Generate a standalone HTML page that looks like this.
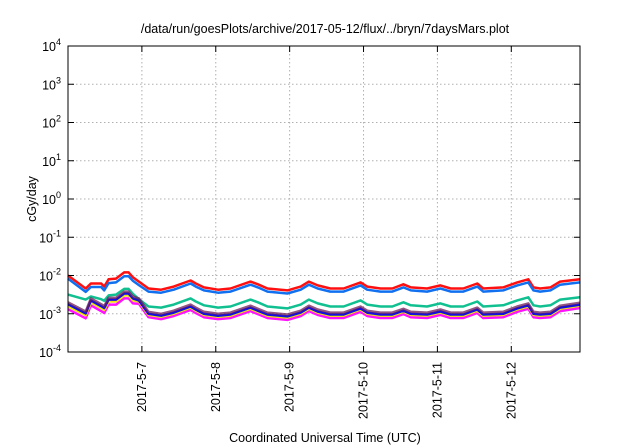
<!DOCTYPE html>
<html><head><meta charset="utf-8"><style>
body{margin:0;background:#fff}
svg{display:block;font-family:"Liberation Sans",sans-serif}
</style></head><body>
<svg id="c" width="640" height="448">
<text x="325" y="33" text-anchor="middle" font-size="12.5">/data/run/goesPlots/archive/2017-05-12/flux/../bryn/7daysMars.plot</text>
<text x="325" y="442" text-anchor="middle" font-size="12.5">Coordinated Universal Time (UTC)</text>
<text transform="translate(36,199) rotate(-90)" text-anchor="middle" font-size="12.5">cGy/day</text>
<g id="grid"></g><g id="series"></g><g id="axes"></g>
</svg>
<script>
const times=[0,0.24,0.31,0.45,0.49,0.55,0.65,0.76,0.82,0.88,0.96,1.09,1.26,1.43,1.66,1.73,1.84,2.03,2.20,2.47,2.57,2.70,2.97,3.15,3.26,3.38,3.55,3.73,3.96,4.05,4.23,4.39,4.54,4.64,4.86,5.04,5.18,5.35,5.54,5.62,5.89,6.08,6.23,6.30,6.39,6.53,6.66,6.93];
const redLog=[-2.00,-2.34,-2.21,-2.21,-2.29,-2.10,-2.08,-1.92,-1.92,-2.05,-2.16,-2.34,-2.37,-2.29,-2.13,-2.21,-2.31,-2.37,-2.34,-2.16,-2.23,-2.34,-2.39,-2.29,-2.16,-2.26,-2.34,-2.34,-2.18,-2.29,-2.34,-2.34,-2.23,-2.31,-2.34,-2.26,-2.34,-2.34,-2.21,-2.34,-2.31,-2.18,-2.10,-2.31,-2.34,-2.31,-2.16,-2.10];
const blueLog=[-2.08,-2.43,-2.30,-2.30,-2.39,-2.20,-2.18,-2.02,-2.02,-2.14,-2.25,-2.42,-2.45,-2.37,-2.21,-2.29,-2.39,-2.45,-2.42,-2.24,-2.31,-2.42,-2.47,-2.37,-2.24,-2.34,-2.42,-2.42,-2.26,-2.37,-2.42,-2.42,-2.31,-2.39,-2.42,-2.34,-2.42,-2.42,-2.29,-2.42,-2.39,-2.26,-2.18,-2.39,-2.42,-2.39,-2.24,-2.18];
const greenLog=[-2.50,-2.63,-2.55,-2.62,-2.66,-2.52,-2.50,-2.35,-2.35,-2.48,-2.62,-2.81,-2.84,-2.76,-2.60,-2.68,-2.78,-2.84,-2.81,-2.63,-2.70,-2.81,-2.86,-2.76,-2.63,-2.73,-2.81,-2.81,-2.65,-2.76,-2.81,-2.81,-2.70,-2.78,-2.81,-2.73,-2.81,-2.81,-2.68,-2.81,-2.78,-2.65,-2.57,-2.78,-2.81,-2.78,-2.63,-2.57];
const magentaLog=[-2.88,-3.12,-2.78,-2.93,-2.98,-2.76,-2.76,-2.60,-2.60,-2.73,-2.74,-3.09,-3.14,-3.06,-2.90,-2.98,-3.09,-3.14,-3.11,-2.93,-3.01,-3.11,-3.16,-3.06,-2.93,-3.03,-3.11,-3.11,-2.95,-3.06,-3.11,-3.11,-3.01,-3.09,-3.11,-3.03,-3.11,-3.11,-2.98,-3.11,-3.09,-2.95,-2.87,-3.09,-3.11,-3.09,-2.93,-2.85];
const yellowLog=[-2.80,-3.04,-2.70,-2.85,-2.90,-2.68,-2.68,-2.52,-2.52,-2.65,-2.68,-3.03,-3.08,-3.00,-2.84,-2.92,-3.03,-3.08,-3.05,-2.87,-2.95,-3.05,-3.10,-3.00,-2.87,-2.97,-3.05,-3.05,-2.89,-3.00,-3.05,-3.05,-2.95,-3.03,-3.05,-2.97,-3.05,-3.05,-2.92,-3.05,-3.03,-2.89,-2.81,-3.03,-3.05,-3.03,-2.87,-2.79];
const darkBlueLog=[-2.75,-2.99,-2.65,-2.80,-2.85,-2.63,-2.63,-2.47,-2.47,-2.60,-2.65,-3.00,-3.05,-2.97,-2.81,-2.89,-3.00,-3.05,-3.02,-2.84,-2.92,-3.02,-3.07,-2.97,-2.84,-2.94,-3.02,-3.02,-2.86,-2.97,-3.02,-3.02,-2.92,-3.00,-3.02,-2.94,-3.02,-3.02,-2.89,-3.02,-3.00,-2.86,-2.78,-3.00,-3.02,-3.00,-2.84,-2.76];
const purpleLog=[-2.70,-2.94,-2.60,-2.75,-2.80,-2.58,-2.58,-2.42,-2.42,-2.55,-2.60,-2.95,-3.00,-2.92,-2.76,-2.84,-2.95,-3.00,-2.97,-2.79,-2.87,-2.97,-3.02,-2.92,-2.79,-2.89,-2.97,-2.97,-2.81,-2.92,-2.97,-2.97,-2.87,-2.95,-2.97,-2.89,-2.97,-2.97,-2.84,-2.97,-2.95,-2.81,-2.73,-2.95,-2.97,-2.95,-2.79,-2.71];
const xTickDays=[1,2,3,4,5,6];
const xTickLabels=["2017-5-7","2017-5-8","2017-5-9","2017-5-10","2017-5-11","2017-5-12"];
const yTickExps=[4,3,2,1,0,-1,-2,-3,-4];

const L=68,R=580,T=46,B=352,XMAX=6.93,YMIN=-4,YMAX=4;
const xs=d=>L+(d/XMAX)*(R-L);
const ys=e=>B-(e-YMIN)/(YMAX-YMIN)*(B-T);
const NS="http://www.w3.org/2000/svg";
function mk(t,a,p){const e=document.createElementNS(NS,t);for(const k in a)e.setAttribute(k,a[k]);p.appendChild(e);return e;}
const grid=document.getElementById('grid'),axes=document.getElementById('axes'),ser=document.getElementById('series');
yTickExps.forEach(e=>{
 const y=ys(e);
 if(e>YMIN&&e<YMAX){const g=mk('line',{x1:L,x2:R,y1:y,y2:y,stroke:'#b0b0b0','stroke-dasharray':'1.5,2.5','stroke-width':1},grid);
 
 }
 mk('line',{x1:L,x2:L+6,y1:y,y2:y,stroke:'#000'},axes);
 mk('line',{x1:R,x2:R-6,y1:y,y2:y,stroke:'#000'},axes);
 const t=mk('text',{x:L-7,y:y+5,'text-anchor':'end','font-size':12.5},axes);
 
 
 t.textContent='10';
 const s=mk('tspan',{dy:-6,'font-size':9},t);s.textContent=String(e);
});
xTickDays.forEach((d,i)=>{
 const x=xs(d);
 const g=mk('line',{x1:x,x2:x,y1:T,y2:B,stroke:'#b0b0b0','stroke-dasharray':'1.5,2.5'},grid);
 
 
 mk('line',{x1:x,x2:x,y1:B,y2:B-6,stroke:'#000'},axes);
 mk('line',{x1:x,x2:x,y1:T,y2:T+6,stroke:'#000'},axes);
 const t=mk('text',{transform:`translate(${x+4},${B+10}) rotate(-90)`,'text-anchor':'end','font-size':12.5},axes);
 
 
 t.textContent=xTickLabels[i];
});
const fr=mk('rect',{x:L,y:T,width:R-L,height:B-T,fill:'none',stroke:'#000','stroke-width':1},axes);


const list=[[redLog,'#ff1010',2.5,'red-series'],[blueLog,'#1070f0',2.5,'blue-series'],[greenLog,'#10c090',2.5,'green-series'],[magentaLog,'#ff10ff',2.5,'magenta-series'],[yellowLog,'#f0e010',2.5,'yellow-series'],[darkBlueLog,'#1010e0',2.5,'dark-blue-series'],[purpleLog,'rgba(110,30,90,0.75)',2.5,'purple-series']];
list.forEach(([arr,c,w,n])=>{
 const p=mk('polyline',{points:arr.map((v,i)=>xs(times[i]).toFixed(1)+','+ys(v).toFixed(1)).join(' '),fill:'none',stroke:c,'stroke-width':w,'stroke-linejoin':'round'},ser);
 
 
});
</script>
</body></html>
